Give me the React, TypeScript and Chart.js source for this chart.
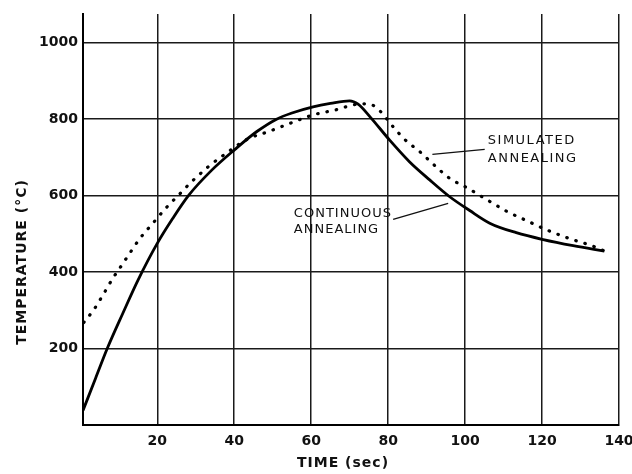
import React, { useEffect, useRef } from "react";
import { Chart, registerables } from "chart.js";

Chart.register(...registerables);

// Continuous annealing (solid line)
const contX = [0.7, 4, 7, 11, 15, 20, 24, 28.1, 34.1, 40.2, 45.8, 51, 55, 60.5, 65, 70, 72.2, 75.3, 80.4, 85.6, 90.8, 96, 101.2, 106.4, 113.3, 120.3, 128.1, 136.2];
const contY = [38, 123, 200, 291, 379, 475, 540, 600, 666, 721, 767, 800, 816, 832, 841, 848, 839, 806, 745, 688, 641, 597, 561, 528, 503, 485, 469, 455];

// Simulated annealing (dotted line)
const simX = [0.9, 3.6, 6.0, 8.6, 9.9, 12.7, 15.5, 18.8, 22.4, 25.7, 28.9, 33.1, 37.8, 43.5, 48.8, 54.5, 60.5, 66.3, 71.9, 74.4, 76.8, 78.7, 81.3, 84.3, 88.2, 92.3, 96.0, 100.4, 105.4, 110.8, 116.1, 121.3, 127.3, 133.2, 136.2];
const simY = [268, 303, 342, 386, 405, 447, 488, 527, 569, 603, 636, 674, 710, 748, 767, 789, 811, 824, 839, 840, 832, 812, 780, 747, 715, 677, 645, 621, 591, 559, 534, 510, 487, 468, 455];

const xTicks = [20, 40, 60, 80, 100, 120, 140];
const yTicks = [200, 400, 600, 800, 1000];

const xTitle = "TIME (sec)";
const yTitle = "TEMPERATURE (°C)";

const simLabel = ["SIMULATED", "ANNEALING"];
const contLabel = ["CONTINUOUS", "ANNEALING"];

export default function App() {
  const ref = useRef<HTMLCanvasElement | null>(null);

  useEffect(() => {
    const canvas = ref.current;
    if (!canvas) return;

    const annotPlugin = {
      id: "annot",
      afterDatasetsDraw(chart: any) {
        const ctx = chart.ctx;
        const xs = chart.scales.x;
        const ys = chart.scales.y;
        const px = (v: number) => xs.getPixelForValue(v);
        const py = (v: number) => ys.getPixelForValue(v);
        ctx.save();
        ctx.fillStyle = "#111";
        ctx.strokeStyle = "#111";
        ctx.lineWidth = 1.3;
        // leader lines
        ctx.beginPath();
        ctx.moveTo(px(91.5), py(708));
        ctx.lineTo(px(105.1), py(721));
        ctx.moveTo(px(81.3), py(538));
        ctx.lineTo(px(95.6), py(580));
        ctx.stroke();
        // labels
        ctx.font = "13px 'DejaVu Sans'";
        (ctx as any).letterSpacing = "1.5px";
        ctx.textAlign = "left";
        ctx.textBaseline = "middle";
        ctx.fillText(simLabel[0], px(105.9), py(745));
        ctx.fillText(simLabel[1], px(105.9), py(698));
        (ctx as any).letterSpacing = "1px";
        ctx.fillText(contLabel[0], px(55.5), py(554));
        ctx.fillText(contLabel[1], px(55.5), py(512));
        // axis titles
        ctx.font = "bold 14px 'DejaVu Sans'";
        (ctx as any).letterSpacing = "1px";
        ctx.textAlign = "center";
        ctx.fillText(xTitle, 343, 463);
        ctx.translate(22, 262);
        ctx.rotate(-Math.PI / 2);
        ctx.fillText(yTitle, 0, 0);
        ctx.restore();
      },
    };

    const chart = new Chart(canvas, {
      type: "line",
      data: {
        datasets: [
          {
            label: "Continuous annealing",
            data: contX.map((x, i) => ({ x, y: contY[i] })),
            borderColor: "#000",
            borderWidth: 2.8,
            pointRadius: 0,
            cubicInterpolationMode: "monotone",
            fill: false,
          },
          {
            label: "Simulated annealing",
            data: simX.map((x, i) => ({ x, y: simY[i] })),
            borderColor: "#000",
            borderWidth: 3.2,
            borderDash: [0.5, 9],
            borderCapStyle: "round",
            pointRadius: 0,
            cubicInterpolationMode: "monotone",
            fill: false,
          },
        ],
      },
      options: {
        responsive: false,
        animation: false,
        events: [],
        layout: { padding: { top: 14, right: 13, left: 0, bottom: 0 } },
        plugins: {
          legend: { display: false },
          tooltip: { enabled: false },
          title: { display: false },
        },
        scales: {
          x: {
            type: "linear",
            min: 0.7,
            max: 140,
            afterBuildTicks: (scale: any) => {
              scale.ticks = xTicks.map((v) => ({ value: v }));
            },
            afterFit: (scale: any) => {
              scale.height = 49;
              scale.paddingLeft = 0;
              scale.paddingRight = 0;
            },
            grid: { color: "#1a1a1a", lineWidth: 1.5, drawTicks: false },
            border: { display: true, color: "#000", width: 2 },
            ticks: {
              color: "#111",
              padding: 8,
              maxRotation: 0,
              autoSkip: false,
              font: { family: "'DejaVu Sans'", size: 14, weight: "bold" },
              callback: (v: any) => String(v),
            },
          },
          y: {
            type: "linear",
            min: 0,
            max: 1075,
            afterBuildTicks: (scale: any) => {
              scale.ticks = yTicks.map((v) => ({ value: v }));
            },
            afterFit: (scale: any) => {
              scale.width = 83;
              scale.paddingTop = 0;
              scale.paddingBottom = 0;
            },
            grid: { color: "#1a1a1a", lineWidth: 1.5, drawTicks: false },
            border: { display: true, color: "#000", width: 2 },
            ticks: {
              color: "#111",
              padding: 5,
              autoSkip: false,
              font: { family: "'DejaVu Sans'", size: 14, weight: "bold" },
              callback: (v: any) => String(v),
            },
          },
        },
      },
      plugins: [annotPlugin],
    } as any);

    return () => chart.destroy();
  }, []);

  return (
    <div style={{ position: "fixed", left: 0, top: 0, width: 632, height: 474, background: "#fff" }}>
      <canvas ref={ref} width={632} height={474} style={{ width: 632, height: 474, display: "block" }} />
    </div>
  );
}
